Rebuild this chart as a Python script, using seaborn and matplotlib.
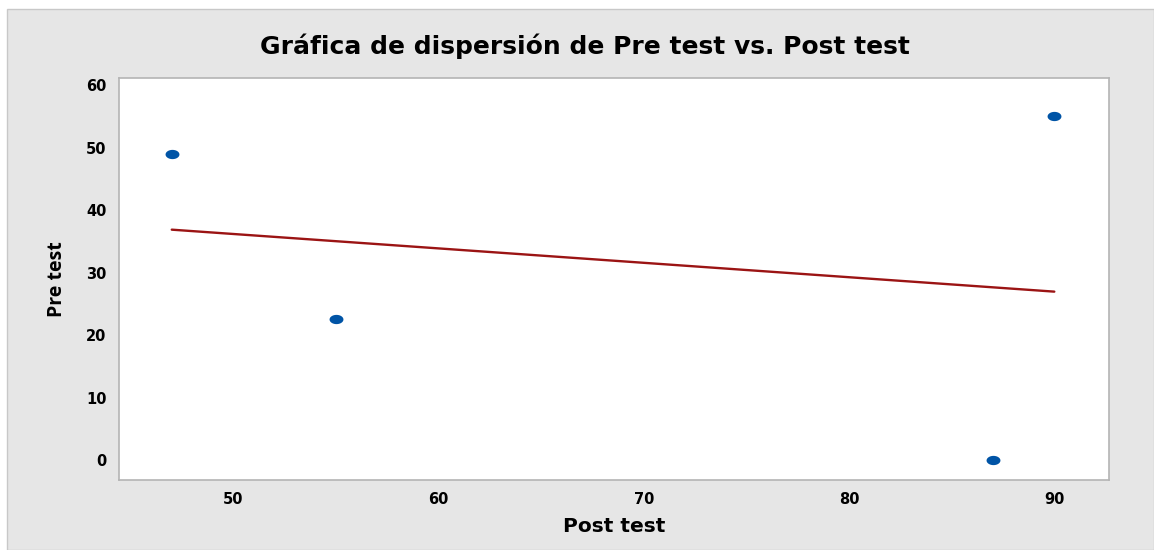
import numpy as np
import pandas as pd
import matplotlib
matplotlib.use("Agg")
import matplotlib.pyplot as plt
from matplotlib.path import Path
from matplotlib.patches import Rectangle
import seaborn as sns

# Data
post_test = [47, 55, 87, 90]
pre_test = [49, 22.5, 0, 55]
x_ticks = [50, 60, 70, 80, 90]
y_ticks = [0, 10, 20, 30, 40, 50, 60]

df = pd.DataFrame({"Post test": post_test, "Pre test": pre_test})

sns.set_theme(style="white")
plt.rcParams['font.family'] = ['DejaVu Sans']

fig = plt.figure(figsize=(11.54, 5.5), dpi=100, facecolor="white")
# gray panel background
fig.patches.append(Rectangle((7 / 1154, 0), 1 - 7 / 1154, 1 - 9 / 550,
                             transform=fig.transFigure, facecolor="#e6e6e6",
                             edgecolor="#c8c8c8", linewidth=1, zorder=-10))

ax = fig.add_axes([119 / 1154, 70 / 550, (1108.7 - 119) / 1154, (480 - 77.7) / 550])
ax.set_facecolor("white")

t = np.linspace(0, 2 * np.pi, 50)
ellipse = Path(np.column_stack([1.5 * np.cos(t), np.sin(t)]), closed=True)

sns.regplot(data=df, x="Post test", y="Pre test", ax=ax, ci=None,
            marker=ellipse,
            scatter_kws={"s": 100, "color": "#0054a6", "alpha": 1, "linewidths": 0, "zorder": 3},
            line_kws={"color": "#9b1414", "linewidth": 1.7, "zorder": 2})

ax.set_xlim(44.43, 92.65)
ax.set_ylim(-3.2, 61.2)
ax.set_xticks(x_ticks)
ax.set_yticks(y_ticks)

for s in ax.spines.values():
    s.set_color("#b4b4b4")
    s.set_linewidth(1.2)

ax.tick_params(axis="both", which="major", direction="out", length=5, width=1,
               color="#b4b4b4", labelsize=10.5, labelcolor="black", pad=4)
for lab in ax.get_xticklabels() + ax.get_yticklabels():
    lab.set_fontweight("bold")

ax.set_xlabel("Post test", fontsize=14.5, fontweight="bold", color="black", labelpad=7)
ax.set_ylabel("Pre test", fontsize=14, fontweight="bold", color="black", labelpad=14,
              family=["Open Sans", "DejaVu Sans"])

fig.text(0.507, 1 - 46 / 550, "Gráfica de dispersión de Pre test vs. Post test",
         ha="center", va="center", fontsize=18, fontweight="bold", color="black")

fig.savefig("out.png", dpi=100, facecolor="white")
